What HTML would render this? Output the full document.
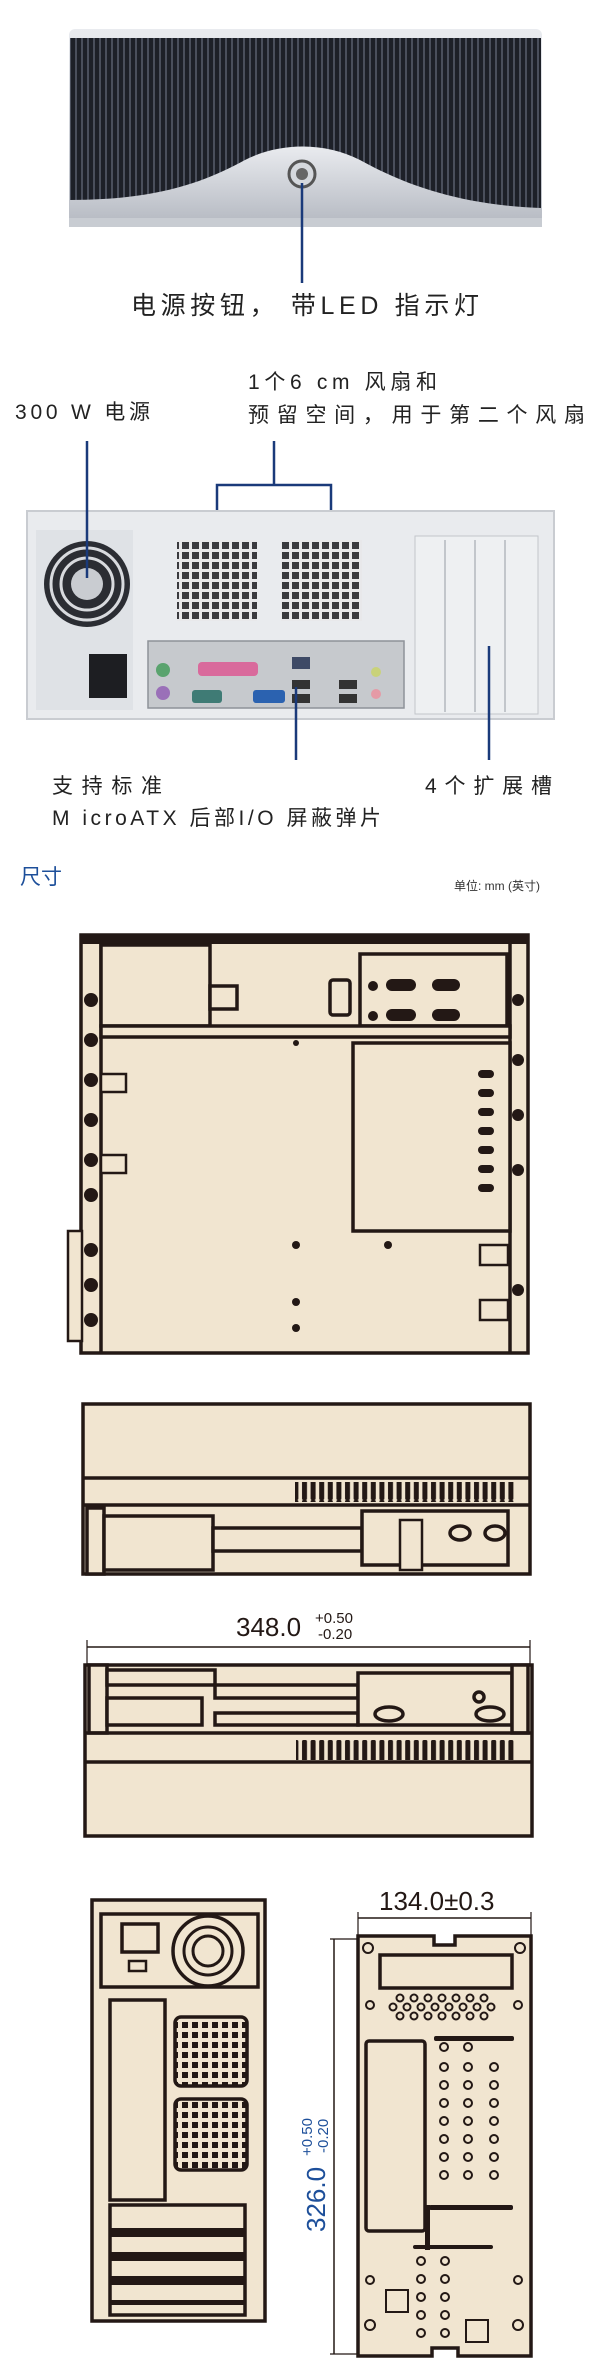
<!DOCTYPE html>
<html><head><meta charset="utf-8"><style>
html,body{margin:0;padding:0;background:#fff;}
svg{display:block}
text{font-family:"Liberation Sans","Noto Sans CJK SC",sans-serif;}
</style></head><body>
<svg width="600" height="2373" viewBox="0 0 600 2373" xmlns="http://www.w3.org/2000/svg">
<defs>
<pattern id="ridge" width="6" height="10" patternUnits="userSpaceOnUse">
<rect width="6" height="10" fill="#1d2028"/><rect x="3" width="2" height="10" fill="#4a4f5c"/>
</pattern>
<linearGradient id="silver" x1="0" y1="0" x2="0" y2="1"><stop offset="0" stop-color="#e9ebef"/><stop offset="1" stop-color="#b9bdc5"/></linearGradient>
<pattern id="grid" width="10" height="10" patternUnits="userSpaceOnUse"><rect width="10" height="10" fill="#e8e8ea"/><rect x="2" y="2" width="7" height="7" fill="#3a3a3e"/></pattern>
<pattern id="grid2" width="10" height="10" patternUnits="userSpaceOnUse"><rect width="10" height="10" fill="#f1e5d0"/><rect x="2" y="2" width="6" height="6" fill="#231815"/></pattern>
<pattern id="vent" width="8.6" height="30" patternUnits="userSpaceOnUse"><rect x="1" y="0" width="5" height="30" rx="1.5" fill="#231815"/></pattern>
</defs>

<!-- FRONT PANEL PHOTO -->
<rect x="69" y="29" width="473" height="198" rx="6" fill="url(#silver)"/>
<rect x="70" y="38" width="471" height="180" fill="url(#ridge)"/>
<path d="M70 218 L70 200 C150 200 200 185 245 160 C280 142 325 142 360 160 C405 185 460 205 541 208 L541 218 Z" fill="url(#silver)"/>
<rect x="69" y="218" width="473" height="9" fill="#c8ccd2"/>
<circle cx="302" cy="174" r="13" fill="#d5d8dd" stroke="#555" stroke-width="3"/>
<circle cx="302" cy="174" r="6" fill="#666"/>
<line x1="302" y1="183" x2="302" y2="283" stroke="#1a3a7a" stroke-width="2.5"/>
<text x="131" y="314" font-size="25" fill="#222" textLength="348" lengthAdjust="spacing">电源按钮， 带LED 指示灯</text>

<!-- REAR PANEL LABELS -->
<text x="15" y="419" font-size="21" fill="#222" textLength="135" lengthAdjust="spacing">300 W 电源</text>
<text x="248" y="389" font-size="21" fill="#222" textLength="189" lengthAdjust="spacing">1个6 cm 风扇和</text>
<text x="248" y="422" font-size="21" fill="#222" textLength="337" lengthAdjust="spacing">预留空间，用于第二个风扇</text>
<path d="M274 441 V485 M217 572 V485 H331 V572" fill="none" stroke="#1a3a7a" stroke-width="2.5"/>
<!-- REAR PANEL PHOTO -->
<rect x="27" y="511" width="527" height="208" fill="#e9ebee" stroke="#c9ccd1" stroke-width="2"/>
<rect x="36" y="530" width="97" height="180" fill="#dfe2e6"/>
<circle cx="87" cy="584" r="43" fill="#2b2d33"/>
<circle cx="87" cy="584" r="36" fill="none" stroke="#d8dade" stroke-width="3"/>
<circle cx="87" cy="584" r="26" fill="none" stroke="#d8dade" stroke-width="3"/>
<circle cx="87" cy="584" r="16" fill="#c9ccd1"/>
<rect x="89" y="654" width="38" height="44" fill="#1d1e22"/>
<rect x="177" y="540" width="80" height="81" fill="url(#grid)"/>
<rect x="281" y="540" width="81" height="81" fill="url(#grid)"/>
<rect x="148" y="641" width="256" height="67" fill="#c6c9cd" stroke="#8e9298" stroke-width="1.5"/>
<rect x="198" y="662" width="60" height="14" rx="4" fill="#d96a9c"/>
<rect x="253" y="690" width="32" height="13" rx="3" fill="#2b62b0"/>
<rect x="192" y="690" width="30" height="13" rx="3" fill="#3f7b75"/>
<circle cx="163" cy="670" r="7" fill="#5aa36e"/><circle cx="163" cy="693" r="7" fill="#9a70b8"/>
<rect x="292" y="657" width="18" height="12" fill="#3e4a66"/>
<rect x="292" y="680" width="18" height="9" fill="#333"/><rect x="292" y="694" width="18" height="9" fill="#333"/>
<rect x="339" y="680" width="18" height="9" fill="#333"/><rect x="339" y="694" width="18" height="9" fill="#333"/>
<circle cx="376" cy="672" r="5" fill="#c9d27a"/><circle cx="376" cy="694" r="5" fill="#e59aa6"/>
<rect x="415" y="536" width="123" height="178" fill="#eef0f2" stroke="#c2c6cb"/>
<g stroke="#c2c6cb" stroke-width="2"><line x1="445" y1="540" x2="445" y2="712"/><line x1="475" y1="540" x2="475" y2="712"/><line x1="505" y1="540" x2="505" y2="712"/></g>
<line x1="87" y1="441" x2="87" y2="578" stroke="#1a3a7a" stroke-width="2.5"/>
<line x1="296" y1="687" x2="296" y2="760" stroke="#1a3a7a" stroke-width="2.5"/>
<line x1="489" y1="646" x2="489" y2="760" stroke="#1a3a7a" stroke-width="2.5"/>
<text x="52" y="793" font-size="21" fill="#222" textLength="110" lengthAdjust="spacing">支持标准</text>
<text x="52" y="825" font-size="21" fill="#222" textLength="329" lengthAdjust="spacing">M icroATX 后部I/O 屏蔽弹片</text>
<text x="425" y="793" font-size="21" fill="#222" textLength="127" lengthAdjust="spacing">4个扩展槽</text>

<!-- DIMENSIONS -->
<text x="20" y="884" font-size="21" fill="#1d4f9a">尺寸</text>
<text x="454" y="890" font-size="12" fill="#333">单位: mm (英寸)</text>

<g stroke="#231815" fill="#f1e5d0" stroke-width="3.5">
<!-- TOP VIEW -->
<rect x="81" y="935" width="447" height="418"/>
<rect x="68" y="1231" width="14" height="110" stroke-width="2.5"/>
<line x1="81" y1="940" x2="528" y2="940" stroke-width="8"/>
<line x1="101" y1="940" x2="101" y2="1353"/>
<line x1="510" y1="940" x2="510" y2="1353"/>
<rect x="101" y="945" width="109" height="81"/>
<rect x="210" y="986" width="27" height="23"/>
<rect x="360" y="954" width="147" height="72"/>
<rect x="330" y="980" width="20" height="35" rx="3"/>
<rect x="101" y="1026" width="409" height="11"/>
<rect x="353" y="1043" width="157" height="188"/>
<rect x="101" y="1074" width="25" height="18" stroke-width="2.5"/>
<rect x="101" y="1155" width="25" height="18" stroke-width="2.5"/>
<rect x="480" y="1245" width="28" height="20" stroke-width="2.5"/>
<rect x="480" y="1300" width="28" height="20" stroke-width="2.5"/>
<!-- SIDE VIEW 1 -->
<rect x="83" y="1404" width="447" height="170"/>
<line x1="83" y1="1478" x2="530" y2="1478"/>
<line x1="83" y1="1505" x2="530" y2="1505"/>
<rect x="87" y="1508" width="17" height="66"/>
<rect x="104" y="1516" width="109" height="54"/>
<rect x="213" y="1528" width="149" height="23"/>
<rect x="362" y="1511" width="146" height="54"/>
<rect x="400" y="1520" width="22" height="50" stroke-width="2.5"/>
<ellipse cx="460" cy="1533" rx="10" ry="7"/><ellipse cx="495" cy="1533" rx="10" ry="7"/>
<!-- SIDE VIEW 2 -->
<rect x="85" y="1665" width="447" height="171"/>
<rect x="89" y="1665" width="18" height="68"/>
<rect x="107" y="1670" width="108" height="15"/>
<rect x="107" y="1698" width="95" height="27"/>
<rect x="215" y="1685" width="143" height="13"/>
<rect x="215" y="1713" width="143" height="12"/>
<rect x="358" y="1673" width="154" height="52"/>
<rect x="512" y="1665" width="16" height="68"/>
<line x1="85" y1="1733" x2="532" y2="1733"/>
<line x1="85" y1="1762" x2="532" y2="1762"/>
<ellipse cx="389" cy="1714" rx="14" ry="7"/><ellipse cx="490" cy="1714" rx="14" ry="7"/>
<circle cx="479" cy="1697" r="5"/>
<!-- REAR DRAWING -->
<rect x="92" y="1900" width="173" height="421"/>
<rect x="101" y="1914" width="157" height="73"/>
<rect x="122" y="1924" width="36" height="28"/>
<rect x="129" y="1961" width="17" height="10" stroke-width="2.5"/>
<circle cx="208" cy="1951" r="35"/>
<circle cx="208" cy="1951" r="24" stroke-width="3"/>
<circle cx="208" cy="1951" r="15" stroke-width="3"/>
<rect x="110" y="2000" width="55" height="200"/>
<rect x="175" y="2017" width="72" height="69" rx="6" fill="url(#grid2)"/>
<rect x="175" y="2099" width="72" height="71" rx="6" fill="url(#grid2)"/>
<rect x="110" y="2205" width="135" height="110"/>
</g>
<g fill="#231815">
<rect x="110" y="2228" width="135" height="9"/><rect x="110" y="2252" width="135" height="9"/><rect x="110" y="2276" width="135" height="9"/><rect x="110" y="2300" width="135" height="5"/>
<rect x="295" y="1482" width="221" height="20" fill="url(#vent)"/>
<rect x="296" y="1740" width="220" height="20" fill="url(#vent)"/>
<circle cx="296" cy="1245" r="4"/><circle cx="388" cy="1245" r="4"/><circle cx="296" cy="1302" r="4"/><circle cx="296" cy="1328" r="4"/><circle cx="296" cy="1043" r="3"/>
</g>
<g fill="#231815">
<rect x="478" y="1070" width="16" height="8" rx="4"/><rect x="478" y="1089" width="16" height="8" rx="4"/><rect x="478" y="1108" width="16" height="8" rx="4"/><rect x="478" y="1127" width="16" height="8" rx="4"/><rect x="478" y="1146" width="16" height="8" rx="4"/><rect x="478" y="1165" width="16" height="8" rx="4"/><rect x="478" y="1184" width="16" height="8" rx="4"/>
<rect x="386" y="979" width="30" height="12" rx="6"/><rect x="432" y="979" width="28" height="12" rx="6"/><rect x="386" y="1009" width="30" height="12" rx="6"/><rect x="432" y="1009" width="28" height="12" rx="6"/>
<circle cx="373" cy="986" r="5"/><circle cx="373" cy="1016" r="5"/>
<circle cx="91" cy="1000" r="7"/><circle cx="91" cy="1040" r="7"/><circle cx="91" cy="1080" r="7"/><circle cx="91" cy="1120" r="7"/><circle cx="91" cy="1160" r="7"/><circle cx="91" cy="1195" r="7"/><circle cx="91" cy="1250" r="7"/><circle cx="91" cy="1285" r="7"/><circle cx="91" cy="1320" r="7"/>
<circle cx="518" cy="1000" r="6"/><circle cx="518" cy="1060" r="6"/><circle cx="518" cy="1115" r="6"/><circle cx="518" cy="1170" r="6"/><circle cx="518" cy="1290" r="6"/>
</g>

<!-- dimension 348 -->
<text x="236" y="1636" font-size="26" fill="#231815">348.0</text>
<text x="315" y="1623" font-size="15" fill="#231815">+0.50</text>
<text x="318" y="1639" font-size="15" fill="#231815">-0.20</text>
<line x1="87" y1="1647" x2="530" y2="1647" stroke="#231815" stroke-width="1.5"/>
<line x1="87" y1="1640" x2="87" y2="1665" stroke="#231815" stroke-width="1.2"/>
<line x1="530" y1="1640" x2="530" y2="1665" stroke="#231815" stroke-width="1.2"/>

<!-- RIGHT VIEW -->
<g stroke="#231815" fill="#f1e5d0" stroke-width="3.5">
<path d="M358 1936 H434 V1945 H455 V1936 H531 V2356 H458 V2348 H432 V2356 H358 Z"/>
<rect x="380" y="1955" width="132" height="33"/>
<rect x="366" y="2041" width="59" height="190" rx="3"/>
</g>
<g fill="none" stroke="#231815" stroke-width="2">
<circle cx="400" cy="1998" r="3.5"/><circle cx="414" cy="1998" r="3.5"/><circle cx="428" cy="1998" r="3.5"/><circle cx="442" cy="1998" r="3.5"/><circle cx="456" cy="1998" r="3.5"/><circle cx="470" cy="1998" r="3.5"/><circle cx="484" cy="1998" r="3.5"/>
<circle cx="393" cy="2007" r="3.5"/><circle cx="407" cy="2007" r="3.5"/><circle cx="421" cy="2007" r="3.5"/><circle cx="435" cy="2007" r="3.5"/><circle cx="449" cy="2007" r="3.5"/><circle cx="463" cy="2007" r="3.5"/><circle cx="477" cy="2007" r="3.5"/><circle cx="491" cy="2007" r="3.5"/>
<circle cx="400" cy="2016" r="3.5"/><circle cx="414" cy="2016" r="3.5"/><circle cx="428" cy="2016" r="3.5"/><circle cx="442" cy="2016" r="3.5"/><circle cx="456" cy="2016" r="3.5"/><circle cx="470" cy="2016" r="3.5"/><circle cx="484" cy="2016" r="3.5"/>
<circle cx="368" cy="1948" r="5"/><circle cx="520" cy="1948" r="5"/><circle cx="370" cy="2005" r="4"/><circle cx="518" cy="2005" r="4"/>
<circle cx="444" cy="2047" r="4"/><circle cx="444" cy="2067" r="4"/><circle cx="444" cy="2085" r="4"/><circle cx="444" cy="2103" r="4"/><circle cx="444" cy="2121" r="4"/><circle cx="444" cy="2139" r="4"/><circle cx="444" cy="2157" r="4"/><circle cx="444" cy="2175" r="4"/>
<circle cx="468" cy="2047" r="4"/><circle cx="468" cy="2067" r="4"/><circle cx="468" cy="2085" r="4"/><circle cx="468" cy="2103" r="4"/><circle cx="468" cy="2121" r="4"/><circle cx="468" cy="2139" r="4"/><circle cx="468" cy="2157" r="4"/><circle cx="468" cy="2175" r="4"/>
<circle cx="494" cy="2067" r="4"/><circle cx="494" cy="2085" r="4"/><circle cx="494" cy="2103" r="4"/><circle cx="494" cy="2121" r="4"/><circle cx="494" cy="2139" r="4"/><circle cx="494" cy="2157" r="4"/><circle cx="494" cy="2175" r="4"/>
<circle cx="421" cy="2261" r="4"/><circle cx="421" cy="2279" r="4"/><circle cx="421" cy="2297" r="4"/><circle cx="421" cy="2315" r="4"/><circle cx="421" cy="2333" r="4"/>
<circle cx="445" cy="2261" r="4"/><circle cx="445" cy="2279" r="4"/><circle cx="445" cy="2297" r="4"/><circle cx="445" cy="2315" r="4"/><circle cx="445" cy="2333" r="4"/>
<rect x="386" y="2290" width="22" height="22"/><rect x="466" y="2320" width="22" height="22"/>
<circle cx="370" cy="2280" r="4"/><circle cx="518" cy="2280" r="4"/><circle cx="370" cy="2325" r="5"/><circle cx="518" cy="2325" r="5"/>
</g>
<g fill="#231815">
<rect x="434" y="2036" width="80" height="5" rx="2"/><rect x="429" y="2205" width="84" height="5" rx="2"/><rect x="425" y="2205" width="5" height="45"/><rect x="413" y="2245" width="80" height="4" rx="2"/>
</g>
<text x="379" y="1910" font-size="26" fill="#231815">134.0±0.3</text>
<line x1="358" y1="1918" x2="531" y2="1918" stroke="#231815" stroke-width="1.5"/>
<line x1="358" y1="1912" x2="358" y2="1936" stroke="#231815" stroke-width="1.2"/>
<line x1="531" y1="1912" x2="531" y2="1936" stroke="#231815" stroke-width="1.2"/>
<line x1="334" y1="1939" x2="334" y2="2354" stroke="#231815" stroke-width="1.5"/>
<line x1="330" y1="1939" x2="358" y2="1939" stroke="#231815" stroke-width="1.2"/>
<line x1="330" y1="2354" x2="358" y2="2354" stroke="#231815" stroke-width="1.2"/>
<g transform="translate(325,2172) rotate(-90)">
<text x="-60" y="0" font-size="26" fill="#1d4f9a">326.0</text>
<text x="16" y="-13" font-size="15" fill="#1d4f9a">+0.50</text>
<text x="19" y="3" font-size="15" fill="#1d4f9a">-0.20</text>
</g>
</svg>
</body></html>
